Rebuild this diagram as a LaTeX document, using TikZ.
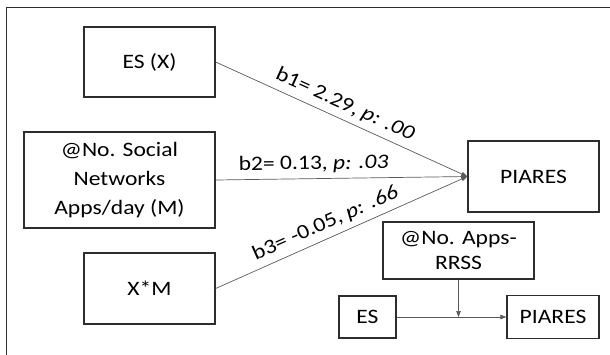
\documentclass[tikz,border=0pt]{standalone}
\usepackage{fontspec}
\setmainfont{Carlito}[FakeStretch=1.15]
\usetikzlibrary{arrows.meta}

\begin{document}
\begin{tikzpicture}[x=1pt,y=-1pt]
  \definecolor{boxcol}{RGB}{45,45,45}
  \definecolor{linecol}{RGB}{90,90,90}

  \tikzset{
    varbox/.style={draw=boxcol,line width=1.3pt,fill=white,align=center,inner sep=0pt,
      font=\fontsize{20.5}{29}\selectfont},
    patharrow/.style={draw=linecol,line width=0.7pt,-{Triangle[length=6pt,width=4.5pt]}},
    coeflabel/.style={sloped,above,inner sep=5.5pt,font=\fontsize{20.5}{24}\selectfont}
  }

  \useasboundingbox (0,0) rectangle (610,354);
  \draw[boxcol,line width=1pt] (6,7) rectangle (640,380);

  % ---------------- Moderation model ----------------
  \node[varbox,minimum width=131pt,minimum height=70pt] (esx) at (149.5,62) {ES (X)};
  \node[varbox,minimum width=191pt,minimum height=96pt] (snm) at (119.5,180)
    {@No. Social\\Networks\\Apps/day (M)};
  \node[varbox,minimum width=131pt,minimum height=71pt] (xm) at (149.5,288.5) {X*M};
  \node[varbox,minimum width=131pt,minimum height=71pt] (piares) at (533.5,176.5) {PIARES};

  % Paths to outcome
  \draw[patharrow] (esx.east) -- node[coeflabel,pos=0.49] {b1= 2.29, \textit{p: .00}} (piares.west);
  \draw[patharrow] (snm.east) -- node[coeflabel,pos=0.39] {b2= 0.13, \textit{p: .03}} (piares.west);
  \draw[patharrow] (xm.east) -- node[coeflabel,pos=0.46] {b3= -0.05, \textit{p: .66}} (piares.west);

  % ---------------- Conceptual inset ----------------
  \node[varbox,minimum width=151pt,minimum height=57pt,font=\fontsize{20.5}{25}\selectfont] (rrss)
    at (458.5,250.5) {@No. Apps-\\RRSS};
  \node[varbox,minimum width=57pt,minimum height=42pt] (es) at (367.5,317) {ES};
  \node[varbox,minimum width=92pt,minimum height=43pt] (piares2) at (553,317) {PIARES};
  \coordinate (modpt) at (rrss.south |- es.east);

  \draw[patharrow] (es.east) -- (piares2.west);
  \draw[patharrow] (rrss.south) -- (modpt);
\end{tikzpicture}
\end{document}
